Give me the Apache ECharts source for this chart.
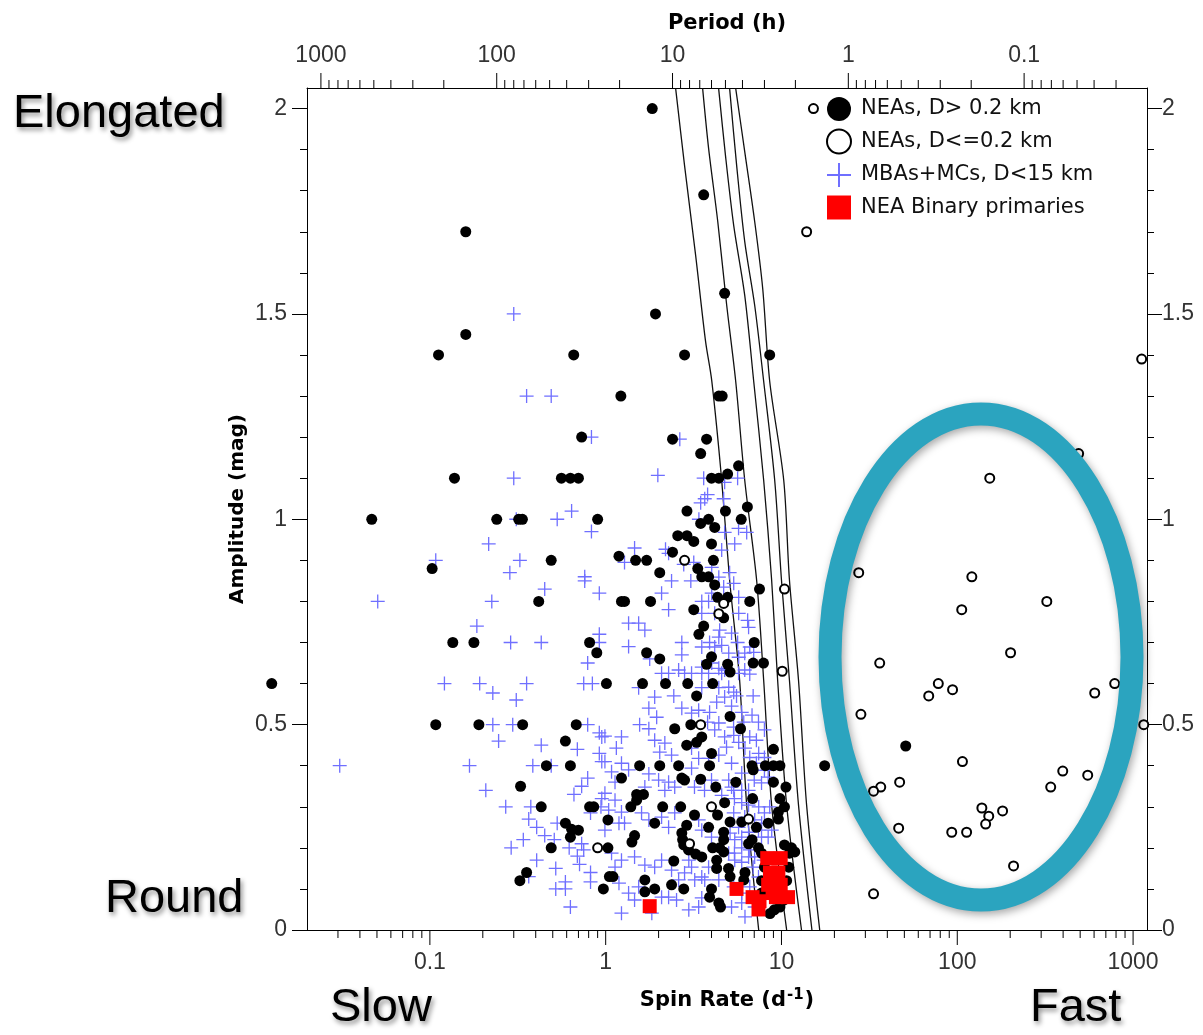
<!DOCTYPE html>
<html>
<head>
<meta charset="utf-8">
<title>Lightcurve amplitude vs spin rate</title>
<script src="https://cdn.jsdelivr.net/npm/echarts@6/dist/echarts.min.js"></script>
<style>
html, body { margin: 0; padding: 0; background: #fff; }
#chart { width: 1203px; height: 1035px; }
</style>
</head>
<body>
<div id="chart"></div>
<script>
// values: [spin rate (1/d), amplitude (mag)]
const neaLarge = [
  [1.84,2.0],[3.61,1.79],[0.16,1.70],[1.92,1.50],[4.75,1.55],[0.16,1.45],[0.112,1.40],[0.658,1.40],[2.81,1.40],[8.57,1.40],
  [1.22,1.30],[4.4,1.30],[4.6,1.30],[0.73,1.20],[2.4,1.195],[3.75,1.195],[3.47,1.16],[5.7,1.13],[0.138,1.10],[0.56,1.10],
  [0.63,1.10],[0.70,1.10],[4.0,1.10],[4.4,1.10],[4.94,1.11],[6.4,1.03],[4.8,1.02],[5.9,1.0],[2.9,1.02],[3.47,0.99],
  [3.85,1.0],[4.17,0.98],[0.0467,1.0],[0.24,1.0],[0.32,1.0],[0.336,1.0],[0.90,1.0],[2.57,0.96],[2.9,0.96],[3.17,0.946],
  [4.0,0.94],[2.4,0.92],[0.49,0.90],[0.103,0.88],[1.19,0.91],[1.48,0.90],[1.71,0.90],[4.1,0.90],[2.03,0.87],[3.34,0.88],
  [3.52,0.86],[3.85,0.86],[4.17,0.84],[4.33,0.81],[7.5,0.83],[1.23,0.80],[1.28,0.80],[1.8,0.80],[4.94,0.81],[6.6,0.80],
  [0.416,0.80],[3.17,0.78],[4.69,0.76],[3.61,0.74],[3.39,0.72],[7.0,0.70],[0.135,0.70],[0.178,0.70],[0.81,0.70],[0.89,0.675],
  [1.71,0.675],[2.03,0.66],[4.0,0.665],[3.75,0.647],[4.94,0.647],[5.1,0.628],[6.9,0.65],[7.9,0.65],
  [1.01,0.60],[1.62,0.60],[2.19,0.60],[2.93,0.60],[4.06,0.60],[0.0126,0.60],[3.29,0.57],[5.1,0.52],[0.108,0.50],[0.19,0.50],
  [0.337,0.50],[0.68,0.50],[3.05,0.50],[2.47,0.49],[5.85,0.49],[3.52,0.47],[3.29,0.457],[2.89,0.45],[0.59,0.46],[4.0,0.43],
  [9.0,0.44],[50.9,0.448],[0.46,0.40],[0.63,0.40],[1.56,0.40],[2.03,0.40],[2.6,0.40],[3.9,0.40],[6.8,0.40],[6.9,0.39],
  [8.1,0.40],[9.0,0.40],[9.8,0.40],[17.6,0.40],[1.23,0.37],[2.71,0.37],[2.81,0.365],[3.47,0.367],[5.5,0.36],[9.0,0.36],
  [10.6,0.348],[4.23,0.348],[0.328,0.35],[1.5,0.33],[1.64,0.33],[1.5,0.316],[1.39,0.30],[2.11,0.30],[2.67,0.30],[4.75,0.31],
  [6.85,0.32],[9.8,0.32],[10.4,0.30],[9.6,0.287],[0.43,0.30],[0.81,0.30],[0.855,0.30],[4.33,0.28],[1.03,0.268],[1.9,0.26],
  [3.2,0.28],[2.89,0.255],[5.1,0.263],[5.94,0.263],[7.2,0.25],[8.4,0.26],[9.6,0.27],[3.85,0.25],[0.59,0.26],[0.64,0.245],
  [0.70,0.243],[0.63,0.226],[2.71,0.236],[2.74,0.22],[1.46,0.23],[1.41,0.214],[4.69,0.238],[4.69,0.22],[6.8,0.22],[1.03,0.20],
  [0.49,0.20],[2.78,0.207],[2.96,0.195],[3.25,0.185],[3.52,0.178],[4.06,0.20],[4.45,0.20],[4.69,0.19],[6.5,0.21],[7.4,0.20],
  [7.7,0.187],[10.4,0.207],[11.4,0.20],[11.9,0.19],[2.44,0.168],[4.28,0.17],[4.28,0.15],[5.0,0.15],[5.1,0.13],[6.2,0.14],
  [6.1,0.122],[1.1,0.13],[1.67,0.122],[1.67,0.093],[1.9,0.10],[2.37,0.11],[2.78,0.10],[4.0,0.10],[3.9,0.08],[4.4,0.066],
  [4.5,0.056],[0.97,0.10],[0.355,0.14],[0.325,0.12],[1.05,0.13],[8.6,0.04],[9.1,0.049],[9.8,0.056],[10.3,0.073],[8.0,0.153],
  [7.7,0.12],[7.7,0.09],[10.7,0.12],[11.0,0.153],[11.1,0.187]
];
const neaSmall = [
  [15.2,2.0],[13.9,1.70],[1119,1.39],[153,1.10],[490,1.16],[10.4,0.83],[2.81,0.90],[4.69,0.795],[4.4,0.77],[10.1,0.63],
  [3.47,0.50],[4.0,0.30],[6.5,0.27],[3.0,0.21],[0.90,0.20],[27.5,0.87],[121,0.86],[106,0.78],[323,0.80],[201,0.675],
  [36.2,0.65],[78,0.60],[68.8,0.57],[94,0.585],[786,0.60],[605,0.577],[1150,0.50],[28.3,0.525],[107,0.41],[398,0.387],
  [552,0.377],[340,0.348],[47,0.36],[36.7,0.348],[33.4,0.338],[138,0.297],[151,0.277],[145,0.258],[181,0.29],[46.4,0.248],
  [93,0.238],[113,0.238],[209,0.156],[33.4,0.088]
];
const mbaSmall = [
  [0.30,1.50],[0.355,1.30],[0.49,1.30],[0.83,1.20],[0.30,1.10],[0.64,1.02],[0.53,1.0],[0.31,1.0],[0.83,0.97],[0.216,0.94],
  [0.108,0.90],[0.325,0.90],[0.285,0.87],[0.76,0.86],
  [0.0505,0.80],[0.225,0.80],[0.45,0.83],[0.76,0.85],[0.92,0.82],[0.185,0.74],[0.288,0.70],[0.43,0.70],[0.92,0.72],[0.92,0.70],
  [0.79,0.65],[0.121,0.60],[0.192,0.60],[0.228,0.577],[0.355,0.60],[0.31,0.56],[0.75,0.60],[0.84,0.60],[0.228,0.50],[0.296,0.50],
  [0.79,0.50],[0.246,0.46],[0.43,0.45],[0.69,0.44],[0.92,0.48],[0.95,0.47],[0.92,0.43],[0.95,0.41],[0.0307,0.40],[0.168,0.40],
  [0.385,0.40],[0.49,0.40],[0.79,0.37],[0.73,0.35],[0.208,0.34],[0.27,0.30],[0.375,0.30],[0.66,0.33],[0.95,0.32],[0.94,0.30],
  [0.82,0.285],[0.365,0.27],[0.405,0.25],[0.53,0.26],[0.45,0.23],[0.51,0.22],[0.34,0.22],[0.29,0.20],[0.62,0.20],[0.73,0.21],
  [0.75,0.195],[0.405,0.17],[0.69,0.18],[0.71,0.16],[0.52,0.15],[0.82,0.14],[0.59,0.117],[0.52,0.10],[0.59,0.10],[0.82,0.117],
  [0.63,0.056],[0.365,0.13],
  [2.64,1.195],[1.98,1.107],[3.61,1.10],[4.75,1.09],[5.63,1.10],[3.66,1.05],[3.80,1.06],[3.47,1.04],[4.69,1.05],[3.39,1.00],
  [5.7,0.978],[6.34,0.968],[4.75,0.968],[5.42,0.94],[1.46,0.93],[2.19,0.927],[2.28,0.917],[1.28,0.895],[4.57,0.925],[2.78,0.89],
  [3.17,0.895],[5.07,0.87],[2.37,0.85],[3.05,0.85],[2.08,0.82],[3.52,0.80],[3.85,0.80],[2.28,0.78],[1.35,0.747],[1.54,0.747],
  [1.67,0.73],[2.71,0.70],[4.45,0.73],[6.42,0.754],[3.9,0.70],[4.57,0.693],[5.63,0.70],[1.35,0.69],[1.78,0.66],[2.71,0.67],
  [6.18,0.674],[6.95,0.676],
  [2.08,0.625],[2.28,0.625],[2.6,0.633],[2.81,0.625],[3.08,0.625],[3.52,0.625],[3.85,0.625],[4.4,0.637],[4.57,0.625],[5.7,0.625],
  [6.18,0.633],[6.6,0.623],
  [4.01,0.883],[4.4,0.859],[4.69,0.835],[4.01,0.82],[5.35,0.844],[5.71,0.81],[3.52,0.771],[4.17,0.771],[5.71,0.771],[6.5,0.737],
  [4.4,0.713],[5.2,0.723],[3.52,0.689],[4.17,0.689],[5.01,0.674],[5.71,0.664],[6.6,0.689],[4.01,0.65],[4.75,0.633],[3.52,0.64],
  [1.54,0.59],[1.9,0.567],[2.44,0.57],[3.52,0.59],[4.4,0.59],[4.75,0.567],[4.28,0.555],[5.2,0.545],[5.55,0.57],[6.9,0.57],
  [1.76,0.54],[1.95,0.518],[1.56,0.50],[1.76,0.49],[2.71,0.54],[3.08,0.528],[3.38,0.535],[3.9,0.53],[3.8,0.506],[4.4,0.504],
  [4.17,0.487],[5.34,0.494],[4.75,0.47],[6.8,0.523],[7.4,0.506],[8.0,0.487],[7.2,0.462],[0.99,0.472],[1.23,0.47],[1.15,0.443],
  [1.9,0.462],[2.17,0.455],[2.03,0.433],[2.37,0.426],[3.08,0.443],[3.38,0.418],[3.85,0.418],[4.4,0.426],[4.87,0.445],[5.2,0.406],
  [6.2,0.443],[6.6,0.42],[5.94,0.382],[7.0,0.365],[6.5,0.34],[7.7,0.358],[8.4,0.372],[0.99,0.41],[1.23,0.406],[1.08,0.385],
  [1.35,0.39],[1.13,0.36],[1.76,0.38],[2.0,0.365],[1.67,0.348],[2.28,0.36],[2.17,0.34],[2.47,0.348],[3.08,0.394],[3.2,0.348],
  [3.65,0.34],[4.0,0.365],[4.57,0.328],[5.2,0.348],[5.4,0.32],[5.94,0.31],[0.99,0.333],[1.13,0.316],[1.04,0.292],[1.23,0.287],
  [1.19,0.26],[1.6,0.285],[1.76,0.268],[2.08,0.275],[2.28,0.25],[2.47,0.285],[3.38,0.268],[3.52,0.243],[4.0,0.226],[5.1,0.236],
  [5.7,0.25],[5.94,0.226],[6.5,0.238],[7.4,0.243],[7.7,0.226],[8.4,0.226],[8.8,0.243],[1.08,0.187],[1.23,0.17],[1.46,0.178],
  [1.67,0.158],[1.9,0.153],[2.08,0.17],[2.37,0.146],[2.81,0.139],[3.08,0.153],[3.52,0.129],[5.4,0.187],[5.94,0.165],[6.5,0.178],
  [6.9,0.153],[7.4,0.129],[1.35,0.09],[1.46,0.073],[2.28,0.08],[2.53,0.073],[3.38,0.056],[3.52,0.078],[5.2,0.056],[5.94,0.066],
  [6.2,0.032],[1.19,0.114],
  [5.01,0.591],[5.35,0.579],[5.94,0.53],[6.1,0.506],[5.35,0.474],[5.71,0.457],[6.6,0.47],[7.42,0.43],[8.0,0.42],[7.2,0.406],
  [8.0,0.389],[5.01,0.365],[5.35,0.34],[5.94,0.34],[6.5,0.304],[7.42,0.30],[8.0,0.285],[8.57,0.30],[5.35,0.285],[6.18,0.275],
  [7.04,0.268],[7.71,0.26],[5.42,0.22],[5.94,0.20],[6.6,0.195],[7.04,0.178],[7.92,0.17],[5.01,0.187],[5.42,0.17],[2.97,0.17],
  [3.21,0.122],[3.85,0.153],[3.66,0.122],[4.4,0.122],[5.35,0.105],[5.94,0.09],[6.6,0.105],[7.04,0.056],[2.6,0.122],[2.08,0.08],
  [2.97,0.049],[1.83,0.041],[1.23,0.041],[1.54,0.105],[1.13,0.153],[0.99,0.243],[1.28,0.26]
];
const neaBinary = [
  [1.78,0.058],[5.55,0.10],[6.85,0.08],[7.4,0.05],[7.5,0.07],[8.3,0.175],[9.9,0.175],[8.6,0.14],[9.6,0.14],
  [8.4,0.11],[9.9,0.11],[9.3,0.08],[10.9,0.08],[8.9,0.09]
];
// the five limit curves
const limitA = [[2.50,2.049],[2.81,1.861],[3.25,1.642],[3.70,1.433],[4.01,1.338],[4.57,1.095],[5.07,0.852],[5.78,0.608],[6.34,0.304],[7.42,0]];
const limitB = [[3.56,2.049],[3.85,1.903],[4.34,1.725],[4.88,1.521],[5.49,1.336],[6.18,1.095],[7.22,0.852],[7.92,0.608],[8.79,0.304],[10.7,0]];
const limitC = [[4.39,2.049],[4.81,1.883],[5.35,1.715],[6.18,1.545],[6.95,1.336],[7.92,1.095],[8.79,0.852],[9.51,0.608],[10.7,0.304],[13.0,0]];
const limitD = [[5.07,2.049],[5.56,1.861],[6.18,1.676],[7.04,1.521],[7.92,1.336],[9.15,1.095],[10.0,0.852],[11.1,0.608],[12.5,0.304],[14.9,0]];
const limitE = [[5.49,2.049],[6.18,1.895],[7.04,1.725],[7.82,1.562],[8.57,1.336],[10.3,1.095],[11.1,0.852],[12.5,0.608],[13.9,0.304],[16.5,0]];

const ampTicks = [0, 0.5, 1, 1.5, 2];
const majorLogTicks = [0.1, 1, 10, 100, 1000];
const minorLogTicks = [0.03,0.04,0.05,0.06,0.07,0.08,0.09,0.2,0.3,0.4,0.5,0.6,0.7,0.8,0.9,
  2,3,4,5,6,7,8,9,20,30,40,50,60,70,80,90,200,300,400,500,600,700,800,900];

const tickFont = 'Liberation Sans, Arial, sans-serif';
const nameFont = 'DejaVu Sans, Verdana, sans-serif';
const bigFont = '47px Liberation Sans, Arial, sans-serif';

const chart = echarts.init(document.getElementById('chart'));

function logLabel(v) {
  return String(+Number(v).toPrecision(6));
}

// log-axis ticks drawn through the axis scale (dir: 1 down, -1 up)
function tickSeries(xAxisIndex, values, yAt, dir, len) {
  return {
    type: 'custom', xAxisIndex: xAxisIndex, yAxisIndex: 0, silent: true, clip: false, z: 6,
    data: values.map(v => [v, yAt]),
    renderItem: function (params, api) {
      const p = api.coord([api.value(0), api.value(1)]);
      return {
        type: 'line',
        shape: { x1: p[0], y1: p[1], x2: p[0], y2: p[1] + dir * len },
        style: { stroke: '#000', lineWidth: 1 }
      };
    }
  };
}

function limitLine(data) {
  return {
    type: 'line', data: data, showSymbol: false, smooth: 0.3, silent: true,
    lineStyle: { color: '#111', width: 1.3 }, z: 1
  };
}

function bigText(text, left, top) {
  return {
    type: 'text', left: left, top: top, z: 100, silent: true,
    style: {
      text: text, font: bigFont, fill: '#000',
      textShadowColor: 'rgba(0,0,0,0.45)', textShadowBlur: 5, textShadowOffsetX: 2, textShadowOffsetY: 3
    }
  };
}

const axisX = {
  type: 'log', logBase: 10, min: 0.02, max: 1200,
  nameMoveOverlap: false,
  axisLine: { onZero: false, lineStyle: { color: '#000', width: 1 } },
  axisTick: { show: false },
  splitLine: { show: false },
  axisLabel: {
    showMinLabel: false, showMaxLabel: false, formatter: logLabel,
    fontFamily: tickFont, fontSize: 23, color: '#333'
  }
};

const axisY = {
  type: 'value', min: 0, max: 2.05, interval: 0.5,
  nameMoveOverlap: false,
  axisLine: { show: true, onZero: false, lineStyle: { color: '#000', width: 1 } },
  axisTick: { show: true, length: 15, customValues: ampTicks, lineStyle: { color: '#000' } },
  minorTick: { show: true, splitNumber: 5, length: 7, lineStyle: { color: '#000' } },
  splitLine: { show: false },
  axisLabel: { customValues: ampTicks, fontFamily: tickFont, fontSize: 23, color: '#333' }
};

chart.setOption({
  backgroundColor: '#fff',
  animation: false,
  grid: { left: 307, right: 56, top: 88, bottom: 105 },
  legend: {
    data: ['NEAs, D> 0.2 km', 'NEAs, D<=0.2 km', 'MBAs+MCs, D<15 km', 'NEA Binary primaries'],
    orient: 'vertical', left: 826, top: 97, padding: 0,
    itemWidth: 34, itemHeight: 24, itemGap: 7.5, selectedMode: false,
    textStyle: { fontFamily: nameFont, fontSize: 21, color: '#111' }
  },
  xAxis: [
    Object.assign({}, axisX, {
      position: 'bottom',
      name: 'Spin Rate (d{sup|-1})', nameLocation: 'middle', nameGap: 58,
      nameTextStyle: {
        fontFamily: nameFont, fontWeight: 'bold', fontSize: 21, color: '#000',
        rich: { sup: { fontFamily: nameFont, fontWeight: 'bold', fontSize: 15, verticalAlign: 'top', padding: [0, 1, 10, 1] } }
      },
      axisLabel: Object.assign({}, axisX.axisLabel, { margin: 21 })
    }),
    Object.assign({}, axisX, {
      position: 'top', inverse: true,
      name: 'Period (h)', nameLocation: 'middle', nameGap: 54,
      nameTextStyle: { fontFamily: nameFont, fontWeight: 'bold', fontSize: 21, color: '#000' },
      axisLabel: Object.assign({}, axisX.axisLabel, { margin: 21 })
    })
  ],
  yAxis: [
    Object.assign({}, axisY, {
      position: 'left',
      name: 'Amplitude (mag)', nameLocation: 'middle', nameGap: 59,
      nameTextStyle: { fontFamily: nameFont, fontWeight: 'bold', fontSize: 20, color: '#000' },
      axisLabel: Object.assign({}, axisY.axisLabel, { margin: 20 })
    }),
    Object.assign({}, axisY, {
      position: 'right',
      axisLabel: Object.assign({}, axisY.axisLabel, { margin: 15 })
    })
  ],
  series: [
    limitLine(limitA), limitLine(limitB), limitLine(limitC), limitLine(limitD), limitLine(limitE),
    {
      name: 'MBAs+MCs, D<15 km', type: 'scatter', data: mbaSmall,
      symbol: 'path://M0,5L10,5M5,0L5,10', symbolSize: 14,
      itemStyle: { color: 'rgba(0,0,0,0)', borderColor: '#6f6fff', borderWidth: 1.3, opacity: 1 }, z: 2
    },
    {
      name: 'NEAs, D> 0.2 km', type: 'scatter', data: neaLarge, clip: false,
      symbol: 'circle', symbolSize: 11, itemStyle: { color: '#000', opacity: 1 }, z: 3
    },
    {
      name: 'NEAs, D<=0.2 km', type: 'scatter', data: neaSmall,
      symbol: 'circle', symbolSize: 9,
      itemStyle: { color: '#fff', borderColor: '#000', borderWidth: 2, opacity: 1 }, z: 4
    },
    {
      name: 'NEA Binary primaries', type: 'scatter', data: neaBinary,
      symbol: 'path://M0,0L10,0L10,10L0,10Z', symbolSize: 14, itemStyle: { color: '#ff0000', opacity: 1 }, z: 5
    },
    tickSeries(0, majorLogTicks, 0, 1, 15),
    tickSeries(0, minorLogTicks, 0, 1, 8),
    tickSeries(1, majorLogTicks, 2.05, -1, 15),
    tickSeries(1, minorLogTicks, 2.05, -1, 8)
  ],
  graphic: [
    {
      type: 'ellipse', z: 100, silent: true,
      shape: { cx: 981, cy: 657, rx: 151, ry: 243 },
      style: {
        fill: 'none', stroke: '#2ba4bf', lineWidth: 23,
        shadowBlur: 8, shadowColor: 'rgba(0,0,0,0.35)', shadowOffsetX: 2, shadowOffsetY: 3
      }
    },
    bigText('Elongated', 13, 91),
    bigText('Round', 105, 876),
    bigText('Slow', 330, 985),
    bigText('Fast', 1030, 985)
  ]
});

window.onresize = function () {
  chart.resize();
};
</script>
</body>
</html>
